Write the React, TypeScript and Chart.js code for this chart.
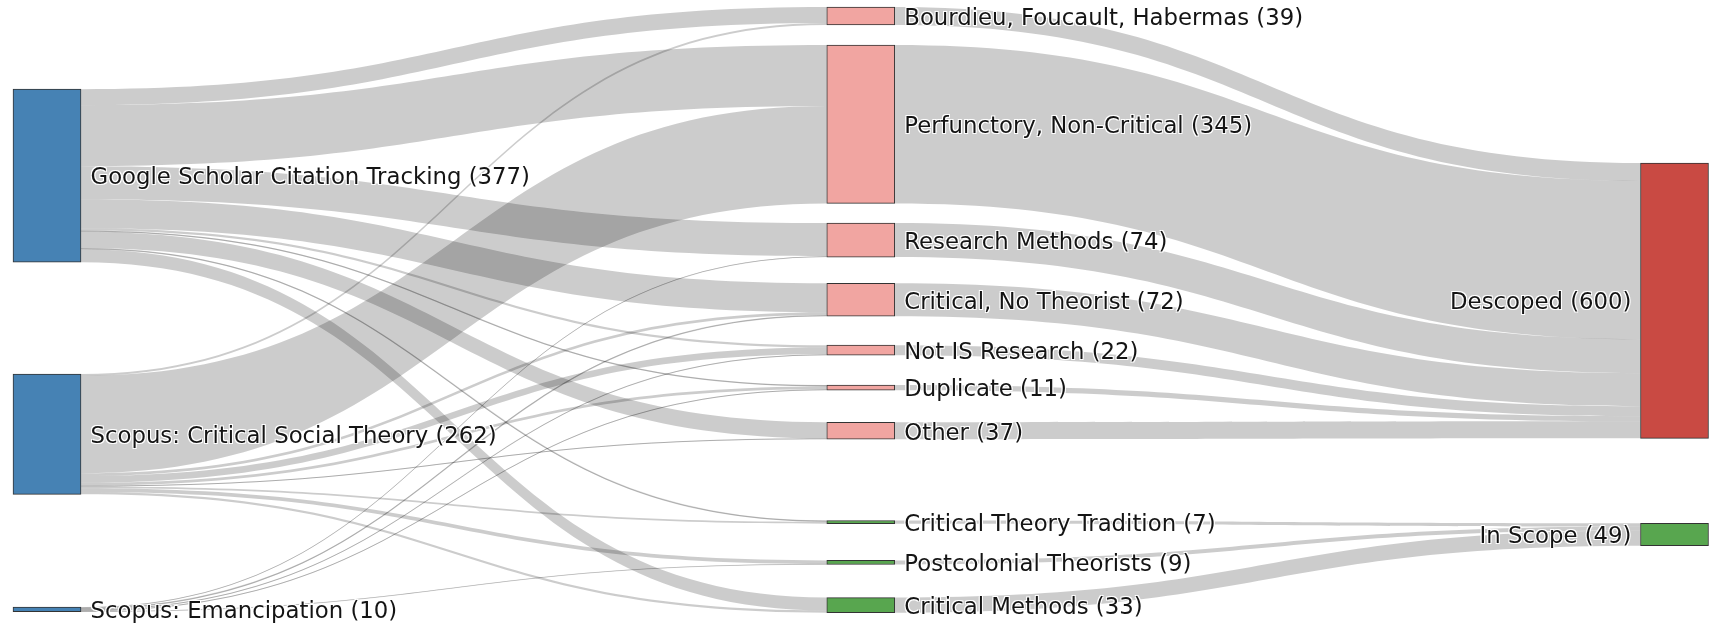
import React, { useEffect, useRef } from "react";
import { Chart, registerables } from "chart.js";

Chart.register(...registerables);

// ---------- data ----------
const nodeNames = [
  "Google Scholar Citation Tracking",
  "Scopus: Critical Social Theory",
  "Scopus: Emancipation",
  "Bourdieu, Foucault, Habermas",
  "Perfunctory, Non-Critical",
  "Research Methods",
  "Critical, No Theorist",
  "Not IS Research",
  "Duplicate",
  "Other",
  "Critical Theory Tradition",
  "Postcolonial Theorists",
  "Critical Methods",
  "Descoped",
  "In Scope",
];
const nodeColumns = [0, 0, 0, 1, 1, 1, 1, 1, 1, 1, 1, 1, 1, 2, 2];

const linkSources = [
  0, 0, 0, 0, 0, 0, 0, 0, 0,
  1, 1, 1, 1, 1, 1, 1, 1, 1,
  2, 2, 2, 2, 2,
  3, 4, 5, 6, 7, 8, 9,
  10, 11, 12,
];
const linkTargets = [
  3, 4, 5, 6, 7, 8, 9, 10, 12,
  3, 4, 6, 7, 8, 9, 10, 11, 12,
  5, 6, 7, 8, 11,
  13, 13, 13, 13, 13, 13, 13,
  14, 14, 14,
];
const linkValues = [
  35, 133, 72, 63, 5, 3, 35, 3, 28,
  4, 212, 6, 15, 6, 2, 4, 8, 5,
  2, 3, 2, 2, 1,
  39, 345, 74, 72, 22, 11, 37,
  7, 9, 33,
];

// ---------- layout / style ----------
const nodeGapBefore = [179, 244, 246, 0, 44, 43, 57, 63, 65, 70, 177, 80, 72, 340, 185];
const nodeColors = [
  "#4682b4", "#4682b4", "#4682b4",
  "#f1a5a1", "#f1a5a1", "#f1a5a1", "#f1a5a1", "#f1a5a1", "#f1a5a1", "#f1a5a1",
  "#58a64f", "#58a64f", "#58a64f",
  "#c94a43", "#58a64f",
];
const NODE_W = 68;
const Y_MAX = 1320;
const FONT = '22.8px "DejaVu Sans", Verdana, sans-serif';

export default function App() {
  const ref = useRef<HTMLCanvasElement>(null);

  useEffect(() => {
    const canvas = ref.current;
    if (!canvas) return;

    const nodeValues = nodeNames.map((_, i) => {
      let inSum = 0;
      let outSum = 0;
      linkValues.forEach((v, j) => {
        if (linkSources[j] === i) outSum += v;
        if (linkTargets[j] === i) inSum += v;
      });
      return Math.max(inSum, outSum);
    });

    const nodeTops: number[] = [];
    const cursor: Record<number, number> = {};
    nodeNames.forEach((_, i) => {
      const c = nodeColumns[i];
      const start = (cursor[c] ?? 0) + nodeGapBefore[i];
      nodeTops[i] = start;
      cursor[c] = start + nodeValues[i];
    });

    const srcOff: number[] = new Array(linkValues.length).fill(0);
    const tgtOff: number[] = new Array(linkValues.length).fill(0);
    const idx = linkValues.map((_, j) => j);
    nodeNames.forEach((_, i) => {
      const outs = idx
        .filter((j) => linkSources[j] === i)
        .sort((a, b) => nodeTops[linkTargets[a]] - nodeTops[linkTargets[b]]);
      let acc = nodeTops[i];
      outs.forEach((j) => {
        srcOff[j] = acc;
        acc += linkValues[j];
      });
      const ins = idx
        .filter((j) => linkTargets[j] === i)
        .sort((a, b) => nodeTops[linkSources[a]] - nodeTops[linkSources[b]]);
      acc = nodeTops[i];
      ins.forEach((j) => {
        tgtOff[j] = acc;
        acc += linkValues[j];
      });
    });

    const linkPlugin = {
      id: "sankeyLinks",
      beforeDatasetsDraw(chart: any) {
        const { ctx } = chart;
        const x = chart.scales.x;
        const y = chart.scales.y;
        ctx.save();
        linkValues.forEach((v, j) => {
          if (!v) return;
          const s = linkSources[j];
          const t = linkTargets[j];
          const x0 = x.getPixelForValue(nodeColumns[s]) + NODE_W / 2;
          const x1 = x.getPixelForValue(nodeColumns[t]) - NODE_W / 2;
          const xm = x0 + (x1 - x0) * 0.5;
          const y0a = y.getPixelForValue(srcOff[j]);
          const y0b = y.getPixelForValue(srcOff[j] + v);
          const y1a = y.getPixelForValue(tgtOff[j]);
          const y1b = y.getPixelForValue(tgtOff[j] + v);
          ctx.fillStyle = "rgba(0,0,0,0.2)";
          ctx.beginPath();
          ctx.moveTo(x0, y0a);
          ctx.bezierCurveTo(xm, y0a, xm, y1a, x1, y1a);
          ctx.lineTo(x1, y1b);
          ctx.bezierCurveTo(xm, y1b, xm, y0b, x0, y0b);
          ctx.closePath();
          ctx.fill();
          const w = Math.abs(y0b - y0a);
          if (w < 1.5) {
            const c0 = (y0a + y0b) / 2;
            const c1 = (y1a + y1b) / 2;
            ctx.strokeStyle = "rgba(0,0,0,0.16)";
            ctx.lineWidth = Math.max(1, w);
            ctx.beginPath();
            ctx.moveTo(x0, c0);
            ctx.bezierCurveTo(xm, c0, xm, c1, x1, c1);
            ctx.stroke();
          }
        });
        ctx.restore();
      },
    };

    const labelPlugin = {
      id: "sankeyLabels",
      afterDatasetsDraw(chart: any) {
        const { ctx } = chart;
        const x = chart.scales.x;
        const y = chart.scales.y;
        ctx.save();
        ctx.font = FONT;
        ctx.textBaseline = "alphabetic";
        nodeNames.forEach((name, i) => {
          const text = `${name} (${nodeValues[i]})`;
          const cx = x.getPixelForValue(nodeColumns[i]);
          const cy = (y.getPixelForValue(nodeTops[i]) + y.getPixelForValue(nodeTops[i] + nodeValues[i])) / 2;
          const right = nodeColumns[i] === 2;
          ctx.textAlign = right ? "right" : "left";
          const tx = right ? cx - NODE_W / 2 - 9 : cx + NODE_W / 2 + 9.5;
          const ty = cy + 8.8;
          ctx.fillStyle = "#ffffff";
          [[1, 1], [1, -1], [-1, 1], [-1, -1]].forEach(([dx, dy]) => {
            ctx.fillText(text, tx + dx, ty + dy);
          });
          ctx.fillStyle = "#141414";
          ctx.fillText(text, tx, ty);
        });
        ctx.restore();
      },
    };

    const chart = new Chart(canvas, {
      type: "bar",
      data: {
        datasets: [
          {
            data: nodeNames.map((_, i) => ({
              x: nodeColumns[i],
              y: [nodeTops[i], nodeTops[i] + nodeValues[i]],
            })) as any,
            backgroundColor: nodeColors,
            borderColor: "#333333",
            borderWidth: 1,
            borderSkipped: false,
            barThickness: NODE_W,
            clip: false as any,
          },
        ],
      },
      options: {
        responsive: false,
        animation: false,
        devicePixelRatio: 1,
        layout: { padding: { left: 47, right: 38.5, top: 7, bottom: 20.3 } },
        scales: {
          x: { type: "linear", min: 0, max: 2, display: false, offset: false },
          y: { type: "linear", min: 0, max: Y_MAX, reverse: true, display: false },
        },
        plugins: {
          legend: { display: false },
          tooltip: { enabled: false },
        },
      },
      plugins: [linkPlugin, labelPlugin],
    });

    return () => chart.destroy();
  }, []);

  return (
    <div style={{ position: "absolute", left: 0, top: 0, width: 1713, height: 633, background: "#fff" }}>
      <canvas ref={ref} width={1713} height={633} style={{ display: "block" }} />
    </div>
  );
}
